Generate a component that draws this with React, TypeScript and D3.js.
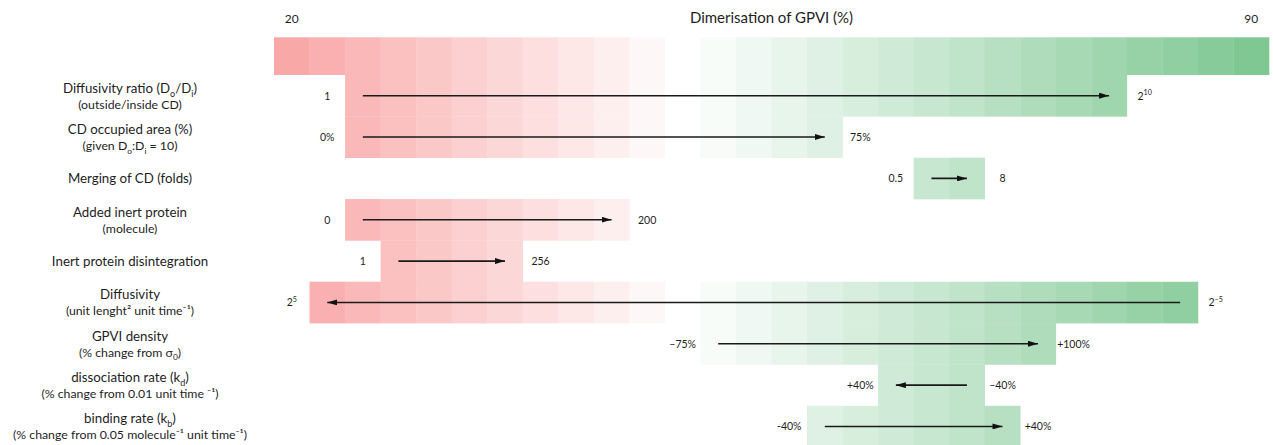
import React from "react";
import * as d3 from "d3";

// ---- data ----
const axisMin = 20;
const axisMax = 90;
const binStep = 2.5;
const axisTitle = "Dimerisation of GPVI (%)";
const axisTickLabels = ["20", "90"];

const paramNames = [
  "Diffusivity ratio (D_{o}/D_{i})",
  "CD occupied area (%)",
  "Merging of CD (folds)",
  "Added inert protein",
  "Inert protein disintegration",
  "Diffusivity",
  "GPVI density",
  "dissociation rate (k_{d})",
  "binding rate (k_{b})",
];
const paramUnits = [
  "(outside/inside CD)",
  "(given D_{o}:D_{i} = 10)",
  "",
  "(molecule)",
  "",
  "(unit lenght² unit time⁻¹)",
  "(% change from σ_{0})",
  "(% change from 0.01 unit time ⁻¹)",
  "(% change from 0.05 molecule⁻¹ unit time⁻¹)",
];
// dimerisation range (%) covered by each parameter sweep
const rangeLow = [25, 25, 65, 25, 27.5, 22.5, 50, 62.5, 57.5];
const rangeHigh = [80, 60, 70, 45, 37.5, 85, 75, 70, 72.5];
const lowLabels = ["1", "0%", "0.5", "0", "1", "2^{5}", "–75%", "+40%", "-40%"];
const highLabels = ["2^{10}", "75%", "8", "200", "256", "2^{–5}", "+100%", "–40%", "+40%"];
const arrowPointsLeft = [false, false, false, false, false, true, false, true, false];

// ---- layout ----
const W = 1273;
const H = 445;
const FONT = "Lato, 'Open Sans', sans-serif";
const topBandY0 = 37.3;
const rowsY0 = 75;
const rowH = 41.35;
const labelX = 130;
const neutralLo = 47.5;
const neutralHi = 50;
const redFull = "#f9a8a8";
const greenFull = "#7fc893";

const x = d3.scaleLinear().domain([axisMin, axisMax]).range([274, 1269]);
const bins = d3.range(axisMin, axisMax - 1e-9, binStep);
const redT = d3.scaleLinear().domain([neutralHi - binStep / 2, axisMin + binStep / 2]).range([0, 1]).clamp(true);
const greenT = d3.scaleLinear().domain([neutralLo + binStep / 2, axisMax - binStep / 2]).range([0, 1]).clamp(true);
const redI = d3.interpolateRgb("#ffffff", redFull);
const greenI = d3.interpolateRgb("#ffffff", greenFull);

function binColor(b: number): string {
  const c = b + binStep / 2;
  if (b + binStep <= neutralLo + 1e-9) return redI(redT(c));
  if (b >= neutralHi - 1e-9) return greenI(greenT(c));
  return "#ffffff";
}

// parse "_{..}" and "^{..}" markup into tspans
function rich(str: string, fs: number, key: string) {
  const parts: { t: string; k: "n" | "sub" | "sup" }[] = [];
  const re = /([_^])\{([^}]*)\}/g;
  let last = 0;
  let m: RegExpExecArray | null;
  while ((m = re.exec(str))) {
    if (m.index > last) parts.push({ t: str.slice(last, m.index), k: "n" });
    parts.push({ t: m[2], k: m[1] === "_" ? "sub" : "sup" });
    last = m.index + m[0].length;
  }
  if (last < str.length) parts.push({ t: str.slice(last), k: "n" });
  let shift = 0;
  return parts.map((p, i) => {
    const target = p.k === "sub" ? fs * 0.3 : p.k === "sup" ? -fs * 0.4 : 0;
    const dy = target - shift;
    shift = target;
    return (
      <tspan key={key + i} dy={dy || undefined} fontSize={p.k === "n" ? fs : fs * 0.68}>
        {p.t}
      </tspan>
    );
  });
}

export default function App() {
  const half = (x(binStep) - x(0)) / 2;
  const rowCenter = (i: number) => rowsY0 + rowH * i + rowH / 2;
  const textColor = "#1e1e1e";
  const mainFs = 13.3;
  const subFs = 12.3;

  return (
    <svg
      width={W}
      height={H}
      style={{ position: "absolute", left: 0, top: 0, display: "block", background: "#fff" }}
      fontFamily={FONT}
    >
      <defs>
        <marker id="ah" viewBox="0 0 10 6" refX={10} refY={3} markerWidth={10} markerHeight={6} markerUnits="userSpaceOnUse" orient="auto">
          <path d="M0,0 L10,3 L0,6 Z" fill="#111" />
        </marker>
      </defs>

      {/* axis title and extremes */}
      <text x={x((axisMin + axisMax) / 2)} y={23} textAnchor="middle" fontSize={15} fill={textColor}>
        {axisTitle}
      </text>
      <text x={x(axisMin + binStep / 2)} y={23} textAnchor="middle" fontSize={12} fill={textColor}>
        {axisTickLabels[0]}
      </text>
      <text x={x(axisMax - binStep / 2)} y={23} textAnchor="middle" fontSize={12} fill={textColor}>
        {axisTickLabels[1]}
      </text>

      {/* top colour scale band */}
      {bins.map((b, j) => (
        <rect key={"top" + j} x={x(b)} y={topBandY0} width={x(b + binStep) - x(b) + 0.3} height={rowsY0 - topBandY0} fill={binColor(b)} />
      ))}

      {paramNames.map((name, i) => {
        const cy = rowCenter(i);
        const y0 = rowsY0 + rowH * i;
        const lo = rangeLow[i];
        const hi = rangeHigh[i];
        const cells = bins.filter((b) => b >= lo - 1e-9 && b + binStep <= hi + 1e-9);
        const xa = x(lo) + half;
        const xb = x(hi) - half;
        const [x1, x2] = arrowPointsLeft[i] ? [xb, xa] : [xa, xb];
        const unit = paramUnits[i];
        const short = hi - lo <= 10;
        return (
          <g key={"row" + i}>
            {cells.map((b, j) => (
              <rect key={j} x={x(b)} y={y0} width={x(b + binStep) - x(b) + 0.3} height={rowH + 0.3} fill={binColor(b)} />
            ))}
            <line x1={x1} x2={x2} y1={cy} y2={cy} stroke="#1a1a1a" strokeWidth={short ? 1.8 : 1.5} markerEnd="url(#ah)" />
            <text x={x(lo - binStep / 2)} y={cy + 4} textAnchor="middle" fontSize={10.5} fill={textColor}>
              {rich(lowLabels[i], 10.5, "l" + i)}
            </text>
            <text x={x(hi + binStep / 2)} y={cy + 4} textAnchor="middle" fontSize={10.5} fill={textColor}>
              {rich(highLabels[i], 10.5, "h" + i)}
            </text>
            {unit ? (
              <>
                <text x={labelX} y={cy - 3} textAnchor="middle" fontSize={mainFs} fill={textColor}>
                  {rich(name, mainFs, "n" + i)}
                </text>
                <text x={labelX} y={cy + 13} textAnchor="middle" fontSize={subFs} fill={textColor}>
                  {rich(unit, subFs, "u" + i)}
                </text>
              </>
            ) : (
              <text x={labelX} y={cy + 5} textAnchor="middle" fontSize={mainFs} fill={textColor}>
                {rich(name, mainFs, "n" + i)}
              </text>
            )}
          </g>
        );
      })}
    </svg>
  );
}
